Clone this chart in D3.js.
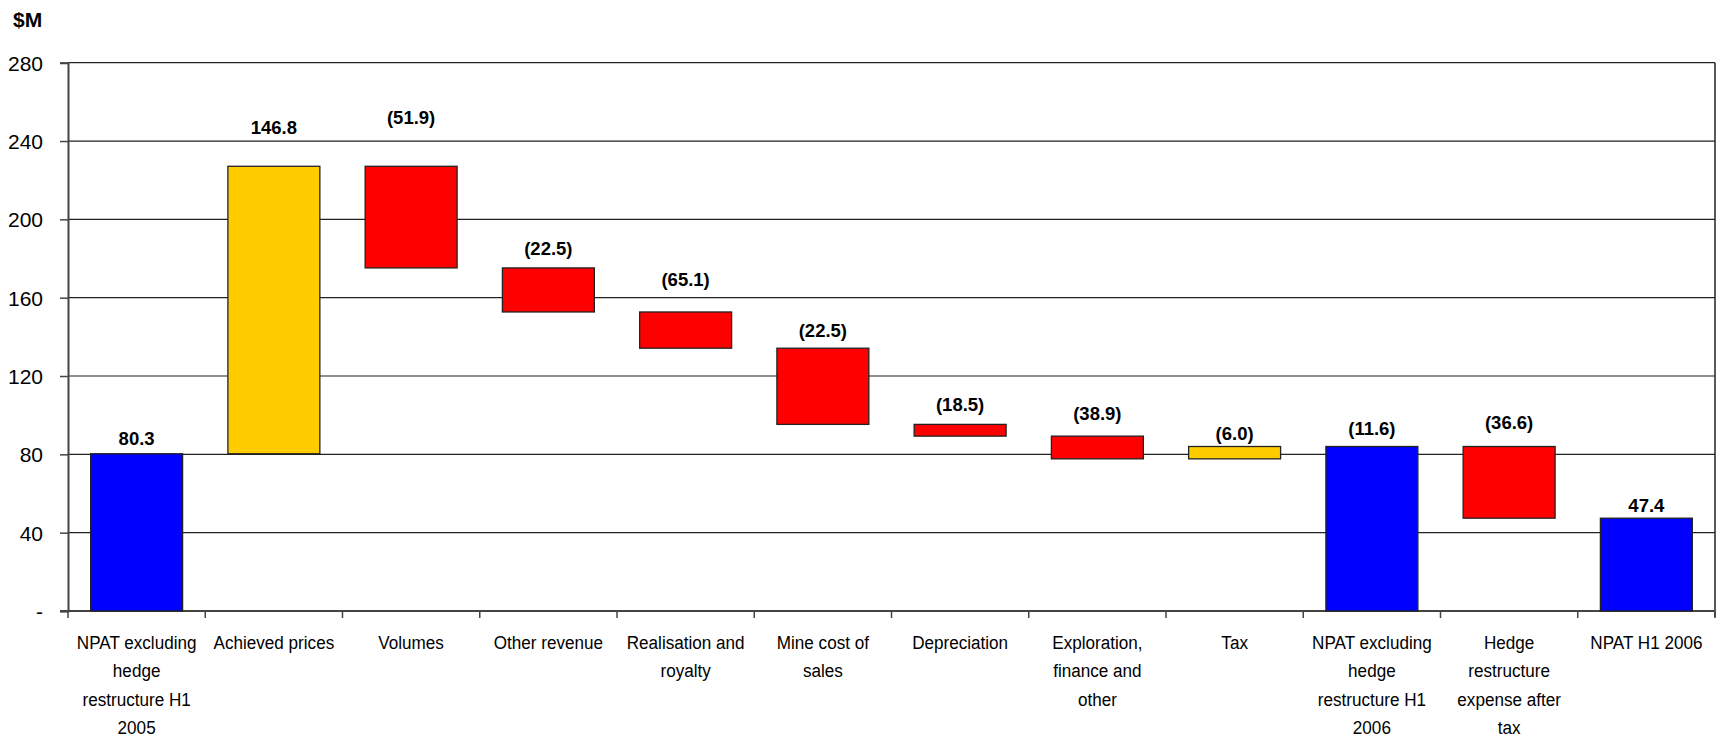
<!DOCTYPE html>
<html>
<head>
<meta charset="utf-8">
<script src="https://cdn.jsdelivr.net/npm/d3@7/dist/d3.min.js"></script>
<style>
  html, body { margin: 0; padding: 0; background: #fff; }
  svg { display: block; }
  text { font-family: "Liberation Sans", Arial, sans-serif; fill: #000; }
</style>
</head>
<body>
<svg id="chart" width="1721" height="741"></svg>
<script>
// NPAT bridge, H1 2005 to H1 2006 ($M)
const categories = [
  "NPAT excluding hedge restructure H1 2005",
  "Achieved prices",
  "Volumes",
  "Other revenue",
  "Realisation and royalty",
  "Mine cost of sales",
  "Depreciation",
  "Exploration, finance and other",
  "Tax",
  "NPAT excluding hedge restructure H1 2006",
  "Hedge restructure expense after tax",
  "NPAT H1 2006"
];
// wrapped category text as shown under the axis
const categoryLines = [
  ["NPAT excluding", "hedge", "restructure H1", "2005"],
  ["Achieved prices"],
  ["Volumes"],
  ["Other revenue"],
  ["Realisation and", "royalty"],
  ["Mine cost of", "sales"],
  ["Depreciation"],
  ["Exploration,", "finance and", "other"],
  ["Tax"],
  ["NPAT excluding", "hedge", "restructure H1", "2006"],
  ["Hedge", "restructure", "expense after", "tax"],
  ["NPAT H1 2006"]
];
// "total" bars run from zero; "step" bars move the running balance
const barKind = ["total", "step", "step", "step", "step", "step", "step", "step", "step", "total", "step", "total"];
const stepValues = [80.3, 146.8, -51.9, -22.5, -18.5, -38.9, -6.0, -11.6, 6.3, null, -36.6, null];
// data label text and the level ($M) each label sits at
const labelTexts = ["80.3", "146.8", "(51.9)", "(22.5)", "(65.1)", "(22.5)", "(18.5)", "(38.9)", "(6.0)", "(11.6)", "(36.6)", "47.4"];
const labelLevels = [88.4, 247.2, 252.3, 185.4, 169.6, 143.5, 105.7, 101.1, 90.9, 93.5, 96.5, 54.1];
const yTicks = [0, 40, 80, 120, 160, 200, 240, 280];

const colors = { total: "#0000FF", up: "#FFCC00", down: "#FF0000" };

// build bar extents from the running balance
let running = 0;
const bars = categories.map((c, i) => {
  let lo, hi, kind;
  if (barKind[i] === "total") {
    if (stepValues[i] !== null) running = stepValues[i];
    lo = 0; hi = running; kind = "total";
  } else {
    const start = running;
    running += stepValues[i];
    lo = Math.min(start, running); hi = Math.max(start, running);
    kind = stepValues[i] >= 0 ? "up" : "down";
  }
  return { cat: c, lo, hi, kind, label: labelTexts[i], level: labelLevels[i], lines: categoryLines[i] };
});

const svg = d3.select("#chart");
const plotLeft = 68, plotRight = 1715, plotTop = 62.7, plotBottom = 611;

const x = d3.scaleBand().domain(categories).range([plotLeft, plotRight]).paddingInner(0.33).paddingOuter(0.165);
const y = d3.scaleLinear().domain([0, 280]).range([plotBottom, plotTop]);

// horizontal gridlines
svg.append("g")
  .selectAll("line")
  .data(yTicks)
  .join("line")
  .attr("x1", plotLeft).attr("x2", plotRight)
  .attr("y1", d => y(d)).attr("y2", d => y(d))
  .attr("stroke", "#222").attr("stroke-width", 1.2);

// right frame edge
svg.append("line")
  .attr("x1", plotRight).attr("x2", plotRight)
  .attr("y1", y(280)).attr("y2", y(0) + 6)
  .attr("stroke", "#222").attr("stroke-width", 1.5);

// y axis
const yAxis = d3.axisLeft(y)
  .tickValues(yTicks)
  .tickSize(8)
  .tickPadding(17)
  .tickFormat(d => d === 0 ? "-" : d3.format("d")(d));
const gy = svg.append("g").attr("transform", `translate(${plotLeft},0)`).call(yAxis);
gy.select(".domain").attr("stroke", "#444").attr("stroke-width", 2);
gy.selectAll(".tick line").attr("stroke", "#444").attr("stroke-width", 1.5);
gy.selectAll(".tick text")
  .attr("font-family", "'Liberation Sans', Arial, sans-serif")
  .attr("font-size", 21)
  .attr("fill", "#000")
  .attr("dy", "0.36em");

// x axis baseline with boundary ticks
svg.append("line")
  .attr("x1", plotLeft - 8).attr("x2", plotRight)
  .attr("y1", plotBottom).attr("y2", plotBottom)
  .attr("stroke", "#444").attr("stroke-width", 2);
const step = x.step();
const boundaries = d3.range(categories.length + 1).map(i => plotLeft + i * step);
svg.append("g")
  .selectAll("line")
  .data(boundaries)
  .join("line")
  .attr("x1", d => d).attr("x2", d => d)
  .attr("y1", plotBottom).attr("y2", plotBottom + 7)
  .attr("stroke", "#444").attr("stroke-width", 1.5);

// bars
svg.append("g")
  .selectAll("rect")
  .data(bars)
  .join("rect")
  .attr("x", d => x(d.cat))
  .attr("width", x.bandwidth())
  .attr("y", d => y(d.hi))
  .attr("height", d => y(d.lo) - y(d.hi))
  .attr("fill", d => colors[d.kind])
  .attr("stroke", "#222")
  .attr("stroke-width", 1.3);

// value labels
svg.append("g")
  .selectAll("text")
  .data(bars)
  .join("text")
  .attr("x", d => x(d.cat) + x.bandwidth() / 2)
  .attr("y", d => y(d.level))
  .attr("dy", "0.36em")
  .attr("text-anchor", "middle")
  .attr("font-weight", "bold")
  .attr("font-size", 18.5)
  .text(d => d.label);

// category labels (slightly condensed)
const catG = svg.append("g")
  .selectAll("g")
  .data(bars)
  .join("g")
  .attr("transform", d => `translate(${x(d.cat) + x.bandwidth() / 2},649) scale(0.9,1)`);
catG.selectAll("text")
  .data(d => d.lines)
  .join("text")
  .attr("x", 0)
  .attr("y", (d, i) => i * 28.5)
  .attr("text-anchor", "middle")
  .attr("font-size", 19)
  .text(d => d);

// unit title
svg.append("text")
  .attr("x", 13).attr("y", 27)
  .attr("font-weight", "bold")
  .attr("font-size", 21)
  .text("$M");
</script>
</body>
</html>
